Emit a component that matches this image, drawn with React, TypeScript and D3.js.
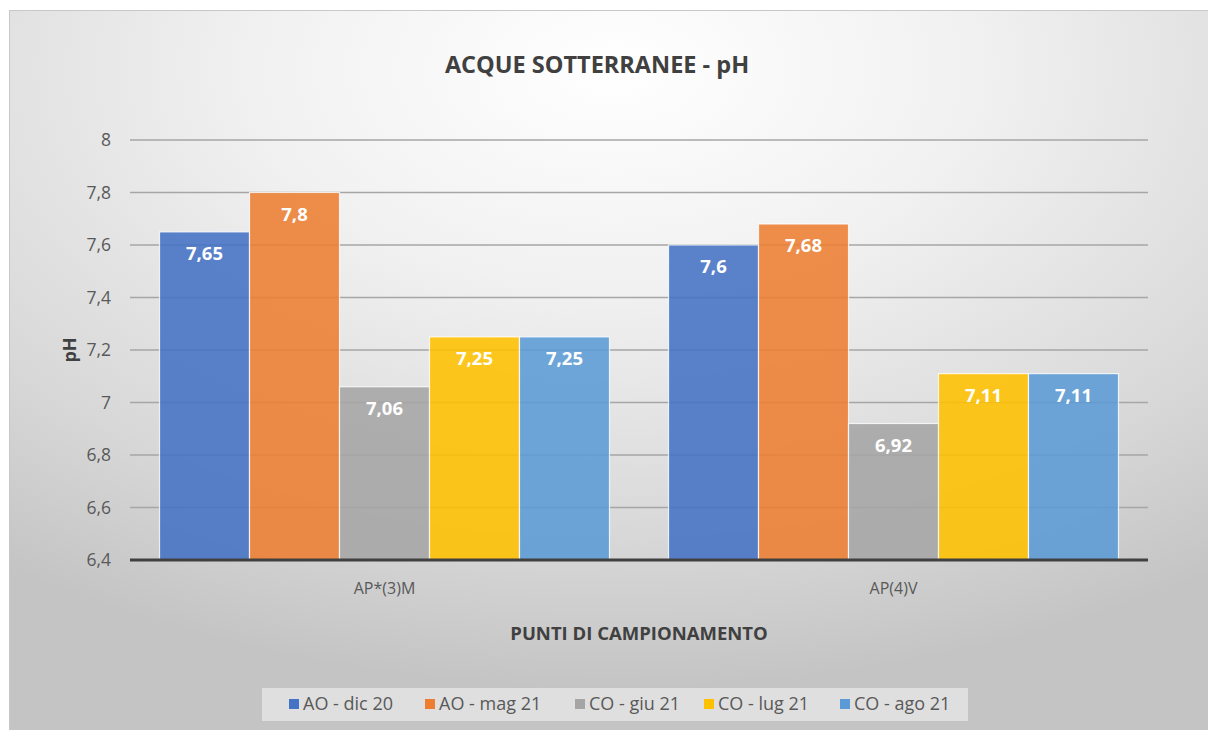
import React from "react";
import * as d3 from "d3";

const categories = ["AP*(3)M", "AP(4)V"];
const seriesNames = ["AO - dic 20", "AO - mag 21", "CO - giu 21", "CO - lug 21", "CO - ago 21"];
const seriesColors = ["#4472C4", "#ED7D31", "#A5A5A5", "#FFC000", "#5B9BD5"];
// values[series][category]
const values = [
  [7.65, 7.6],
  [7.8, 7.68],
  [7.06, 6.92],
  [7.25, 7.11],
  [7.25, 7.11],
];
const yTicks = [6.4, 6.6, 6.8, 7, 7.2, 7.4, 7.6, 7.8, 8];
// legend item x positions (square left edge)
const legendX = [289, 425, 575, 704, 840];

const FONT = "'Open Sans', Carlito, Calibri, sans-serif";
const fmt = (v: number) => String(v).replace(".", ",");

const App: React.FC = () => {
  const width = 1208;
  const height = 730;
  const plot = { left: 130, right: 1148, top: 140, bottom: 560 };

  const x0 = d3
    .scaleBand<string>()
    .domain(categories)
    .range([plot.left, plot.right])
    .paddingInner(0.116)
    .paddingOuter(0.058);

  const x1 = d3
    .scaleBand<string>()
    .domain(seriesNames)
    .range([0, x0.bandwidth()]);

  const y = d3.scaleLinear().domain([6.4, 8]).range([plot.bottom, plot.top]);

  return (
    <div style={{ position: "fixed", left: 0, top: 0 }}>
      <svg width={width} height={height} style={{ display: "block" }}>
        <defs>
          <radialGradient id="bg" cx="50%" cy="8%" r="85%" fx="50%" fy="8%">
            <stop offset="0%" stopColor="#ffffff" />
            <stop offset="35%" stopColor="#f1f1f1" />
            <stop offset="75%" stopColor="#d8d8d8" />
            <stop offset="100%" stopColor="#c4c4c4" />
          </radialGradient>
        </defs>
        <rect x={0} y={0} width={width} height={height} fill="#ffffff" />
        <rect x={9.5} y={10.5} width={width} height={height} fill="url(#bg)" stroke="#c8c8c8" />

        <text
          x={597}
          y={65}
          dy="0.35em"
          textAnchor="middle"
          fontFamily={FONT}
          fontSize={23.5}
          fontWeight="bold"
          fill="#404040"
        >
          ACQUE SOTTERRANEE  - pH
        </text>

        {/* gridlines */}
        {yTicks.map((t) => (
          <line
            key={`g-${t}`}
            x1={plot.left}
            x2={plot.right}
            y1={y(t)}
            y2={y(t)}
            stroke="#a6a6a6"
            strokeWidth={1.5}
          />
        ))}

        {/* y tick labels */}
        {yTicks.map((t) => (
          <text
            key={`yt-${t}`}
            x={111}
            y={y(t)}
            dy="0.35em"
            textAnchor="end"
            fontFamily={FONT}
            fontSize={17.5}
            fill="#595959"
          >
            {fmt(t)}
          </text>
        ))}

        {/* bars */}
        {categories.map((cat, ci) => (
          <g key={cat} transform={`translate(${x0(cat)},0)`}>
            {seriesNames.map((s, si) => {
              const v = values[si][ci];
              const bx = x1(s) ?? 0;
              return (
                <g key={s}>
                  <rect
                    x={bx}
                    y={y(v)}
                    width={x1.bandwidth()}
                    height={plot.bottom - y(v)}
                    fill={seriesColors[si]}
                    fillOpacity={0.88}
                    stroke="#ffffff"
                    strokeOpacity={0.8}
                    strokeWidth={1.2}
                  />
                  <text
                    x={bx + x1.bandwidth() / 2}
                    y={y(v) + 22}
                    dy="0.35em"
                    textAnchor="middle"
                    fontFamily={FONT}
                    fontSize={18.5}
                    fontWeight="bold"
                    fill="#ffffff"
                  >
                    {fmt(v)}
                  </text>
                </g>
              );
            })}
          </g>
        ))}

        {/* x axis line */}
        <line
          x1={plot.left}
          x2={plot.right}
          y1={plot.bottom}
          y2={plot.bottom}
          stroke="#404040"
          strokeWidth={3}
        />

        {categories.map((cat) => (
          <text
            key={`xl-${cat}`}
            x={(x0(cat) ?? 0) + x0.bandwidth() / 2}
            y={588}
            dy="0.35em"
            textAnchor="middle"
            fontFamily={FONT}
            fontSize={16}
            fill="#595959"
          >
            {cat}
          </text>
        ))}

        <text
          x={(plot.left + plot.right) / 2}
          y={634}
          dy="0.35em"
          textAnchor="middle"
          fontFamily={FONT}
          fontSize={18.5}
          fontWeight="bold"
          fill="#404040"
        >
          PUNTI DI CAMPIONAMENTO
        </text>

        <text
          transform={`translate(70,${(plot.top + plot.bottom) / 2}) rotate(-90)`}
          dy="0.35em"
          textAnchor="middle"
          fontFamily={FONT}
          fontSize={18}
          fontWeight="bold"
          fill="#404040"
        >
          pH
        </text>

        {/* legend */}
        <rect x={262} y={688} width={706} height={33} fill="#e4e4e4" fillOpacity={0.85} />
        {seriesNames.map((s, i) => (
          <g key={`lg-${s}`}>
            <rect x={legendX[i]} y={699} width={10} height={10} fill={seriesColors[i]} />
            <text
              x={legendX[i] + 14}
              y={704}
              dy="0.35em"
              fontFamily={FONT}
              fontSize={18}
              fill="#595959"
            >
              {s}
            </text>
          </g>
        ))}
      </svg>
    </div>
  );
};

export default App;
